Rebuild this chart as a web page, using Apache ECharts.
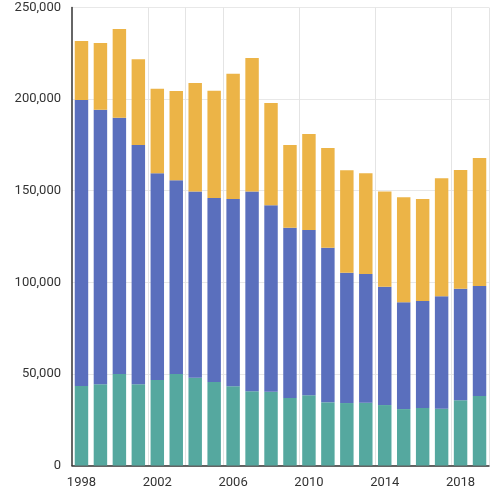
<!DOCTYPE html>
<html>
<head>
<meta charset="utf-8">
<script src="https://cdn.jsdelivr.net/npm/echarts@6/dist/echarts.min.js"></script>
<style>
  html, body { margin: 0; padding: 0; background: #fff; }
  #chart { width: 500px; height: 500px; }
</style>
</head>
<body>
<div id="chart"></div>
<script>
// years on the x axis
var years = ['1998', '1999', '2000', '2001', '2002', '2003', '2004', '2005', '2006', '2007', '2008',
             '2009', '2010', '2011', '2012', '2013', '2014', '2015', '2016', '2017', '2018', '2019'];

// stacked series, bottom to top
var tealValues = [43400, 44300, 49900, 44300, 46700, 49900, 47900, 45600, 43200, 40500, 40300,
                  36800, 38300, 34500, 34100, 34300, 33000, 30800, 31400, 31000, 35600, 37900];
var blueValues = [156100, 149900, 139900, 130600, 112800, 105800, 101600, 100400, 102300, 109000, 101700,
                  93000, 90200, 84400, 71100, 70200, 64600, 58300, 58400, 61400, 60900, 60100];
var yellowValues = [32200, 36400, 48500, 46800, 46200, 48700, 59300, 58600, 68400, 72900, 55900,
                    45100, 52500, 54400, 55900, 55000, 51900, 57300, 55700, 64400, 64800, 69800];

// category boundaries that carry a vertical grid line
var vLines = [4, 6, 8, 12, 16, 20];

var chart = echarts.init(document.getElementById('chart'));

function barSeries(name, data, color) {
  return {
    name: name,
    type: 'bar',
    stack: 'total',
    barWidth: '71%',
    itemStyle: { color: color },
    data: data
  };
}

chart.setOption({
  animation: false,
  grid: {
    left: 72,
    right: 11,
    top: 7.5,
    bottom: 34.5,
    containLabel: false
  },
  xAxis: {
    type: 'category',
    data: years,
    boundaryGap: true,
    axisLine: { show: true, lineStyle: { color: '#333', width: 1.5 } },
    axisTick: { show: false },
    axisLabel: {
      interval: 3,
      margin: 11,
      color: '#333',
      fontSize: 13,
      fontFamily: 'Roboto'
    },
    splitLine: {
      show: true,
      interval: function (index) { return vLines.indexOf(index) >= 0; },
      lineStyle: { color: '#e4e4e4', width: 1 }
    }
  },
  yAxis: {
    type: 'value',
    min: 0,
    max: 250000,
    interval: 50000,
    axisLine: { show: true, lineStyle: { color: '#333', width: 1.5 } },
    axisTick: { show: false },
    axisLabel: {
      margin: 11,
      color: '#333',
      fontSize: 13,
      fontFamily: 'Roboto',
      formatter: function (v) { return v.toLocaleString('en-US'); }
    },
    splitLine: { show: true, lineStyle: { color: '#e8e8e8', width: 1 } }
  },
  series: [
    barSeries('teal', tealValues, '#55a89f'),
    barSeries('blue', blueValues, '#5a6fbd'),
    barSeries('yellow', yellowValues, '#ecb447')
  ]
});
</script>
</body>
</html>
